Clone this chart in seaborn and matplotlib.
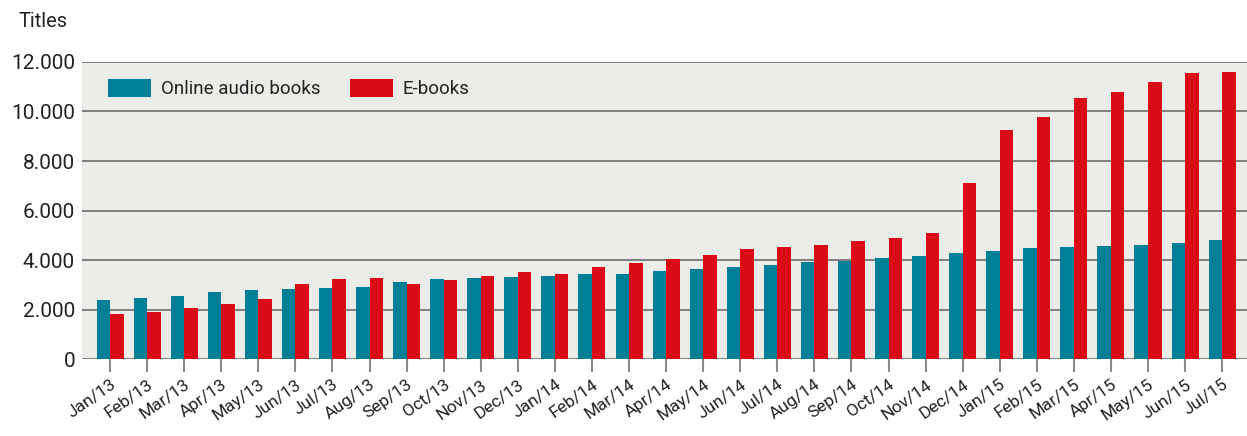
import pandas as pd
import matplotlib.pyplot as plt
import seaborn as sns
from matplotlib.ticker import FuncFormatter

months = ["Jan/13", "Feb/13", "Mar/13", "Apr/13", "May/13", "Jun/13", "Jul/13", "Aug/13",
          "Sep/13", "Oct/13", "Nov/13", "Dec/13", "Jan/14", "Feb/14", "Mar/14", "Apr/14",
          "May/14", "Jun/14", "Jul/14", "Aug/14", "Sep/14", "Oct/14", "Nov/14", "Dec/14",
          "Jan/15", "Feb/15", "Mar/15", "Apr/15", "May/15", "Jun/15", "Jul/15"]
audio = [2380, 2450, 2560, 2690, 2800, 2840, 2860, 2910, 3110, 3220, 3260, 3310, 3350,
         3420, 3430, 3570, 3640, 3720, 3810, 3930, 3970, 4070, 4180, 4300, 4350, 4470,
         4510, 4550, 4600, 4700, 4810]
ebooks = [1820, 1900, 2050, 2220, 2410, 3040, 3230, 3260, 3020, 3190, 3350, 3500, 3450,
          3720, 3870, 4040, 4200, 4430, 4540, 4620, 4770, 4880, 5100, 7130, 9270, 9760,
          10530, 10800, 11180, 11570, 11600]
yticks = [0, 2000, 4000, 6000, 8000, 10000, 12000]

df = pd.DataFrame({
    "month": months * 2,
    "titles": audio + ebooks,
    "kind": ["Online audio books"] * len(months) + ["E-books"] * len(months),
})

sns.set_theme(style="white")
plt.rcParams["font.family"] = ["Roboto", "DejaVu Sans"]

fig = plt.figure(figsize=(12.47, 4.36), dpi=100)
ax = fig.add_axes([0.0658, 0.1766, 0.9342, 0.6812])
ax.set_facecolor("#ECECE8")

sns.barplot(data=df, x="month", y="titles", hue="kind", ax=ax, width=0.73,
            palette={"Online audio books": "#007F96", "E-books": "#DA0A16"},
            saturation=1, linewidth=0)

ax.set_ylim(0, 12000)
ax.set_xlim(-0.755, len(months) - 0.33)
ax.set_yticks(yticks)
ax.yaxis.set_major_formatter(FuncFormatter(lambda v, p: f"{int(v):,}".replace(",", ".")))
ax.grid(axis="y", color="#7F7F7F", linewidth=1.4)
ax.set_axisbelow(True)
for s in ax.spines.values():
    s.set_visible(False)

ax.tick_params(axis="y", length=0, labelsize=15, pad=5, labelcolor="#222222")
ax.tick_params(axis="x", length=9, width=1.5, color="#8A8A8A", direction="out",
               bottom=True, labelsize=12.5, labelcolor="#222222", pad=4)
plt.setp(ax.get_xticklabels(), rotation=35, ha="right", rotation_mode="anchor")
ax.set_xlabel("")
ax.set_ylabel("")

ax.legend(loc="upper left", ncol=2, frameon=False, fontsize=13.5,
          handlelength=2.3, handleheight=1.1, handletextpad=0.5, columnspacing=1.6,
          bbox_to_anchor=(0.008, 1.0), labelcolor="#222222")

fig.text(0.015, 0.95, "Titles", fontsize=14.5, color="#222222", ha="left", va="center")

plt.savefig("out.png", dpi=100)
